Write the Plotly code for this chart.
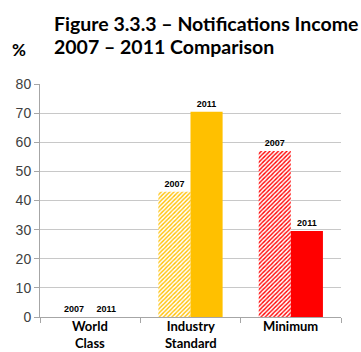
import plotly.graph_objects as go

categories = ["World<br>Class", "Industry<br>Standard", "Minimum"]
values_2007 = [0, 43, 57]
values_2011 = [0, 70.5, 29.5]
colors_2007 = ["#FFC000", "#FFC000", "#FF0000"]
colors_2011 = ["#FFC000", "#FFC000", "#FF0000"]
year_labels = ["2007", "2011"]
title_lines = ["Figure 3.3.3 – Notifications Income", "2007 – 2011 Comparison"]
unit_label = "%"

# plot area in pixels (for placing free text)
PL, PR, PT, PB = 40, 20, 84, 35
W, H = 361, 352
PH = H - PT - PB
PW = W - PL - PR


def px_x(px):
    return (px - PL) / PW


def px_y(py):
    return (H - PB - py) / PH


fig = go.Figure()

# 2007: hatched bars
fig.add_trace(go.Bar(
    x=categories, y=values_2007, name=year_labels[0],
    text=[year_labels[0]] * len(categories), textposition="outside",
    textfont=dict(family="Liberation Sans", size=9, color="#000000"),
    marker=dict(
        color="#FFFFFF",
        line=dict(width=0),
        pattern=dict(shape="/", fgcolor=colors_2007, bgcolor="#FFFFFF",
                     size=3, solidity=0.45, fillmode="replace"),
    ),
    cliponaxis=False,
))

# 2011: solid bars
fig.add_trace(go.Bar(
    x=categories, y=values_2011, name=year_labels[1],
    text=[year_labels[1]] * len(categories), textposition="outside",
    textfont=dict(family="Liberation Sans", size=9, color="#000000"),
    marker=dict(color=colors_2011, line=dict(width=0)),
    cliponaxis=False,
))

fig.update_traces(texttemplate="<b>%{text}</b>")

annotations = [
    dict(text=f"<b>{title_lines[0]}</b>", x=px_x(52), y=px_y(23),
         xanchor="left", yanchor="middle",
         font=dict(family="Lato", size=19.5, color="#000000")),
    dict(text=f"<b>{title_lines[1]}</b>", x=px_x(52), y=px_y(47),
         xanchor="left", yanchor="middle",
         font=dict(family="Lato", size=19.5, color="#000000")),
    dict(text=f"<b>{unit_label}</b>", x=px_x(19), y=px_y(50),
         xanchor="center", yanchor="middle",
         font=dict(family="Lato", size=17, color="#000000")),
]
for a in annotations:
    a.update(xref="paper", yref="paper", showarrow=False)

# category labels under the axis
for cat in categories:
    annotations.append(dict(
        text=f"<b>{cat}</b>", x=cat, xref="x",
        y=px_y(317), yref="paper",
        xanchor="center", yanchor="top", showarrow=False,
        borderpad=0,
        font=dict(family="Lato", size=13, color="#000000"),
    ))

fig.update_layout(
    width=W, height=H,
    margin=dict(l=PL, r=PR, t=PT, b=PB, autoexpand=False),
    paper_bgcolor="white", plot_bgcolor="white",
    barmode="group", bargap=0.36, bargroupgap=0,
    showlegend=False,
    annotations=annotations,
)

fig.update_yaxes(
    range=[0, 80], dtick=10,
    showgrid=True, gridcolor="#C8C8C8", gridwidth=1,
    showline=True, linecolor="#A6A6A6", linewidth=1,
    ticks="outside", ticklen=5, tickcolor="#A6A6A6",
    tickfont=dict(family="Liberation Sans", size=14, color="#404040"),
    zeroline=False, automargin=False,
)
fig.update_xaxes(
    showline=True, linecolor="#A6A6A6", linewidth=1,
    ticks="outside", tickson="boundaries", ticklen=5, tickcolor="#A6A6A6",
    showticklabels=False, automargin=False,
)

fig.write_html("out.html")
